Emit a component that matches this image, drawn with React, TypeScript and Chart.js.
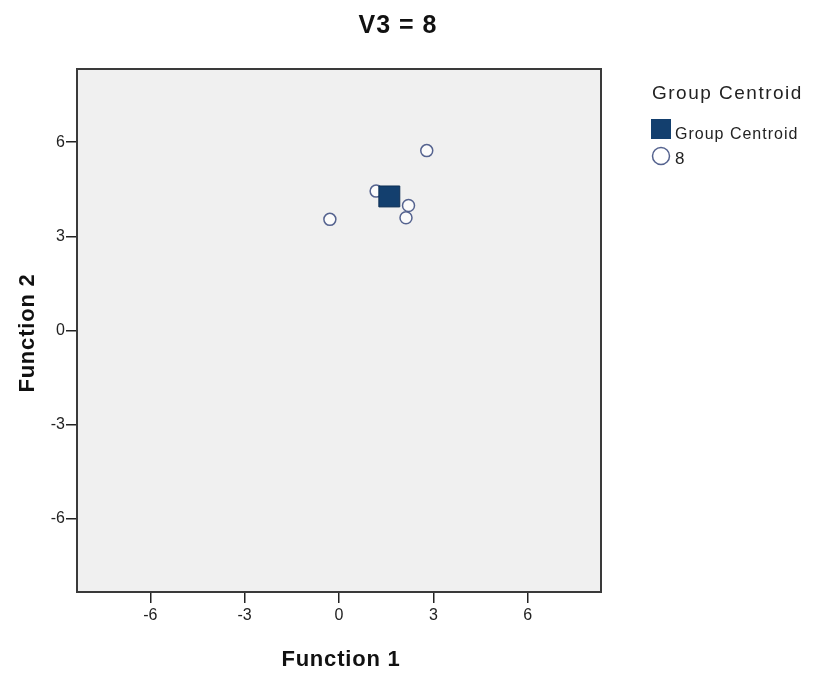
import React, { useEffect, useRef } from "react";
import { Chart, registerables } from "chart.js";

Chart.register(...registerables);

const chartTitle = "V3 = 8";
const xAxisTitle = "Function 1";
const yAxisTitle = "Function 2";
const legendTitle = "Group Centroid";
const legendLabels = ["Group Centroid", "8"];

const centroidX = [1.6];
const centroidY = [4.27];
const caseX = [2.79, 1.18, 2.21, 2.13, -0.29];
const caseY = [5.73, 4.44, 3.98, 3.59, 3.54];

const tickValues = [-6, -3, 0, 3, 6];
const axisMin = -8.33;
const axisMax = 8.33;

const centroidColor = "#133f6e";
const caseStroke = "#55638f";
const FONT = "'Liberation Sans', Arial, sans-serif";

const decorPlugin = {
  id: "decor",
  beforeDraw(chart: any) {
    const { ctx, chartArea } = chart;
    ctx.save();
    ctx.fillStyle = "#ffffff";
    ctx.fillRect(0, 0, chart.width, chart.height);
    ctx.fillStyle = "#f0f0f0";
    ctx.fillRect(chartArea.left, chartArea.top, chartArea.right - chartArea.left, chartArea.bottom - chartArea.top);
    ctx.restore();
  },
  afterDraw(chart: any) {
    const { ctx, chartArea } = chart;
    ctx.save();
    ctx.strokeStyle = "#3a3a3a";
    ctx.lineWidth = 2;
    ctx.strokeRect(chartArea.left, chartArea.top, chartArea.right - chartArea.left, chartArea.bottom - chartArea.top);

    ctx.fillStyle = "#111";
    (ctx as any).letterSpacing = "1px";
    ctx.font = `bold 25px ${FONT}`;
    ctx.textAlign = "center";
    ctx.textBaseline = "middle";
    ctx.fillText(chartTitle, 398, 26);

    ctx.font = `bold 22px ${FONT}`;
    (ctx as any).letterSpacing = "0.8px";
    ctx.fillText(xAxisTitle, 341, 660);
    ctx.save();
    ctx.translate(28, 333);
    ctx.rotate(-Math.PI / 2);
    ctx.fillText(yAxisTitle, 0, 0);
    ctx.restore();

    ctx.textAlign = "left";
    ctx.textBaseline = "alphabetic";
    ctx.fillStyle = "#222";
    (ctx as any).letterSpacing = "1.5px";
    ctx.font = `19px ${FONT}`;
    ctx.fillText(legendTitle, 652, 99);

    ctx.fillStyle = centroidColor;
    ctx.fillRect(651, 119, 20, 20);
    ctx.fillStyle = "#222";
    (ctx as any).letterSpacing = "1px";
    ctx.font = `16px ${FONT}`;
    ctx.fillText(legendLabels[0], 675, 139);

    ctx.beginPath();
    ctx.arc(661, 156, 8.5, 0, Math.PI * 2);
    ctx.fillStyle = "#ffffff";
    ctx.fill();
    ctx.strokeStyle = caseStroke;
    ctx.lineWidth = 1.5;
    ctx.stroke();
    ctx.fillStyle = "#222";
    ctx.font = `17px ${FONT}`;
    ctx.fillText(legendLabels[1], 675, 164);
    ctx.restore();
  },
};

export default function App() {
  const ref = useRef<HTMLCanvasElement | null>(null);

  useEffect(() => {
    if (!ref.current) return;
    const setTicks = (scale: any) => {
      scale.ticks = tickValues.map((v) => ({ value: v }));
    };
    const chart = new Chart(ref.current, {
      type: "scatter",
      data: {
        datasets: [
          {
            label: legendLabels[0],
            data: centroidX.map((x, i) => ({ x, y: centroidY[i] })),
            pointStyle: "rect",
            pointRadius: 14.8,
            backgroundColor: centroidColor,
            borderColor: "#0d2f55",
            borderWidth: 1,
          },
          {
            label: legendLabels[1],
            data: caseX.map((x, i) => ({ x, y: caseY[i] })),
            pointStyle: "circle",
            pointRadius: 6,
            backgroundColor: "rgba(255,255,255,0.7)",
            borderColor: caseStroke,
            borderWidth: 1.5,
          },
        ],
      },
      options: {
        responsive: false,
        animation: false,
        layout: { padding: { left: 0, right: 215, top: 69, bottom: 0 } },
        plugins: { legend: { display: false }, title: { display: false }, tooltip: { enabled: false } },
        scales: {
          x: {
            type: "linear",
            min: axisMin,
            max: axisMax,
            afterBuildTicks: setTicks,
            afterFit: (s: any) => {
              s.height = 86;
            },
            border: { display: false },
            grid: { drawOnChartArea: false, drawTicks: true, tickLength: 11, color: "#222", lineWidth: 1.5 },
            ticks: { color: "#222", font: { size: 16, family: FONT }, padding: 3, maxRotation: 0 },
          },
          y: {
            type: "linear",
            min: axisMin,
            max: axisMax,
            afterBuildTicks: setTicks,
            afterFit: (s: any) => {
              s.width = 77;
            },
            border: { display: false },
            grid: { drawOnChartArea: false, drawTicks: true, tickLength: 11, color: "#222", lineWidth: 1.5 },
            ticks: { color: "#222", font: { size: 16, family: FONT }, padding: 1 },
          },
        },
      },
      plugins: [decorPlugin],
    } as any);
    return () => chart.destroy();
  }, []);

  return (
    <div style={{ position: "fixed", left: 0, top: 0, width: 816, height: 678, background: "#fff" }}>
      <canvas ref={ref} width={816} height={678} style={{ display: "block" }} />
    </div>
  );
}
